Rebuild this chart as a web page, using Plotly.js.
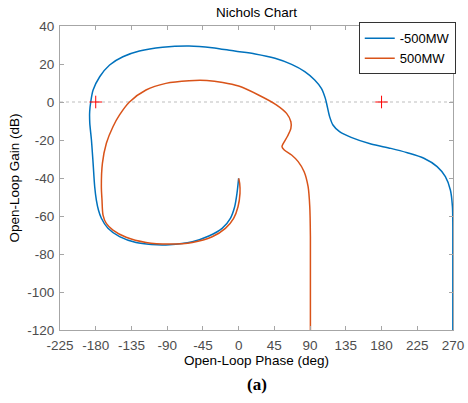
<!DOCTYPE html>
<html>
<head>
<meta charset="utf-8">
<script src="https://cdn.plot.ly/plotly-3.0.1.min.js"></script>
<style>html,body{margin:0;padding:0;background:#fff;}#chart{width:468px;height:403px;}</style>
</head>
<body>
<div id="chart"></div>
<script>
// -500MW curve: open-loop phase (deg) and gain (dB)
var phaseNeg500 = [0, -2.1, -5, -10.4, -20.8, -37.5, -58.3, -87.5, -110, -129.2, -150, -164.6, -172.9, -176.5, -179.2, -181.3, -183.3, -185.4, -187.5, -187.6, -186.3, -183.3, -175, -162.5, -145.8, -125, -95.8, -62.5, -33.3, -5, 20.8, 45.8, 66.7, 83.3, 95.8, 104.2, 109.2, 111.7, 114.6, 118.8, 127.1, 141.7, 166.7, 191.7, 212.5, 233.3, 250, 260.4, 266.7, 269.3, 269.8, 269.8];
var gainNeg500  = [-40.2, -48.1, -55.1, -61.2, -66.5, -70.5, -73.5, -75.1, -75, -74, -70.9, -66.5, -61.2, -57, -51.6, -44.6, -32.3, -20, -11, -5, 0, 6.3, 13.3, 19.5, 23.8, 26.8, 28.8, 29.5, 28.6, 26.8, 25.3, 23, 19.8, 16, 11.6, 7.2, 1.9, -2.5, -7.7, -12.1, -15.6, -18.6, -22.1, -24.4, -26.7, -29.6, -34, -39.3, -46.3, -55.1, -65.6, -120];
// 500MW curve
var phasePos500 = [0, 1.3, 1.7, -0.8, -6.3, -16.7, -33.3, -58.3, -87.5, -116.7, -141.7, -158.3, -166.7, -170.8, -172.1, -172.9, -171.6, -166.6, -158.3, -150, -137.5, -116.7, -91.7, -62.5, -40, -20, 0, 25, 47.9, 60.4, 65.8, 65.8, 61.7, 56.3, 54.6, 57.5, 66.7, 75, 82.5, 87.5, 89.6, 90.4, 90.4];
var gainPos500  = [-40.2, -42.8, -48.1, -55.1, -61.2, -66.5, -70.9, -73.9, -74.7, -73.9, -71.2, -67.4, -63.9, -59.5, -51.6, -44.6, -32.3, -21.7, -13, -6.8, 0, 6.3, 9.8, 11.2, 11.3, 10.3, 8.4, 3.7, -1.6, -6, -10.4, -13.9, -17.9, -21.8, -23.5, -25.3, -27.9, -31.4, -36.7, -44.6, -55.1, -70.9, -120];
// critical points
var critPhase = [-180, 180];
var critGain = [0, 0];
var seriesNames = ['-500MW', '500MW'];
var xTicks = [-225, -180, -135, -90, -45, 0, 45, 90, 135, 180, 225, 270];
var yTicks = [-120, -100, -80, -60, -40, -20, 0, 20, 40];

var font = 'Liberation Sans, Arial, sans-serif';
var fs = 13.5;
var traces = [
  {x: phaseNeg500, y: gainNeg500, name: seriesNames[0], mode: 'lines', line: {color: '#0072BD', width: 1.5, shape: 'spline', smoothing: 0.8}},
  {x: phasePos500, y: gainPos500, name: seriesNames[1], mode: 'lines', line: {color: '#D95319', width: 1.5, shape: 'spline', smoothing: 0.8}},
  {x: critPhase, y: critGain, mode: 'markers', showlegend: false, marker: {symbol: 'cross-thin-open', size: 9, color: '#FF0000', line: {color: '#FF0000', width: 1}}}
];
var axisCommon = {
  showgrid: false, zeroline: false, showline: true, linecolor: '#a6a6a6', linewidth: 1,
  mirror: 'ticks', ticks: 'inside', ticklen: 4, tickcolor: '#a6a6a6',
  tickfont: {family: font, size: fs, color: '#4d4d4d'}
};
var layout = {
  width: 468, height: 403,
  margin: {l: 60, r: 12, t: 26, b: 73},
  paper_bgcolor: '#fff', plot_bgcolor: '#fff',
  title: {text: 'Nichols Chart', font: {family: font, size: fs, color: '#000'}, x: 0.5, xref: 'paper', y: 0.97, yanchor: 'middle'},
  xaxis: Object.assign({}, axisCommon, {range: [-225, 270], tickvals: xTicks, ticktext: xTicks.map(String), ticklabelstandoff: 3,
    title: {text: 'Open-Loop Phase (deg)', font: {family: font, size: fs, color: '#000'}, standoff: 0}}),
  yaxis: Object.assign({}, axisCommon, {range: [-120, 40], tickvals: yTicks, ticktext: yTicks.map(String), ticklabelstandoff: 2,
    title: {text: 'Open-Loop Gain (dB)', font: {family: font, size: fs, color: '#000'}, standoff: 4}}),
  legend: {x: 1.007, xanchor: 'right', y: 1.012, yanchor: 'top', bgcolor: '#fff', bordercolor: '#333', borderwidth: 1,
    font: {family: font, size: 13, color: '#000'}, tracegroupgap: 0},
  showlegend: true,
  shapes: [{type: 'line', xref: 'paper', x0: 0, x1: 1, yref: 'y', y0: 0, y1: 0, line: {color: '#bdbdbd', width: 1, dash: 'dot'}, layer: 'below'}],
  annotations: [{text: '<b>(a)</b>', xref: 'paper', yref: 'paper', x: 0.5, y: -0.18, yanchor: 'middle', showarrow: false,
    font: {family: 'Liberation Serif, DejaVu Serif, serif', size: 17, color: '#000'}}]
};
Plotly.newPlot('chart', traces, layout, {displayModeBar: false, staticPlot: true});
</script>
</body>
</html>
